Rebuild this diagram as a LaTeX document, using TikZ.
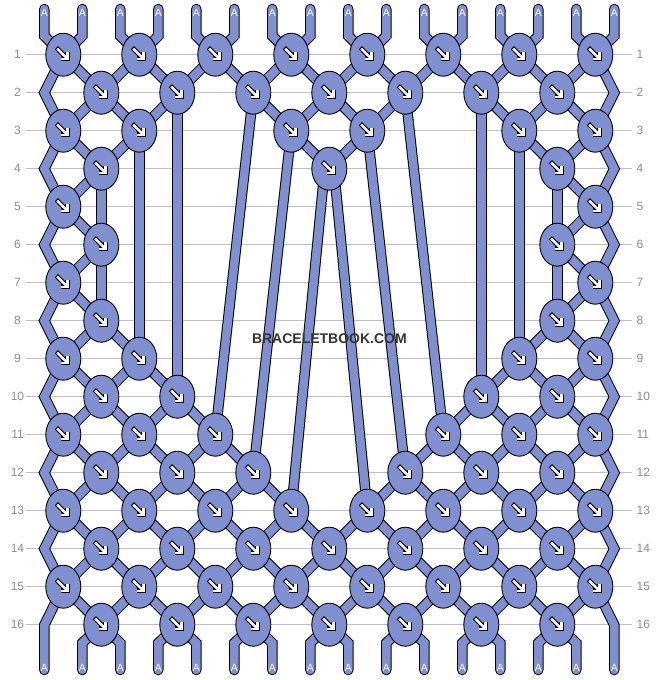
\documentclass[tikz,border=0pt]{standalone}
\usepackage{fontspec}
\setmainfont{Liberation Sans}
\usetikzlibrary{shapes.geometric,calc}
\definecolor{strand}{RGB}{127,143,208}
\definecolor{gridc}{RGB}{192,192,192}
\definecolor{numc}{RGB}{140,140,140}
\definecolor{titlec}{RGB}{51,51,51}
\pgfdeclarelayer{gridl}
\pgfdeclarelayer{strl}
\pgfsetlayers{gridl,strl,main}
\begin{document}
\begin{tikzpicture}[x=1pt,y=-1pt,
  knot/.style={ellipse, draw=black, line width=0.9pt, fill=strand,
    minimum width=35pt, minimum height=43pt, inner sep=0pt,
    path picture={\begin{scope}[shift={(path picture bounding box.center)}]
      \draw[black, line width=4.6pt, line cap=butt] (-6.9,-6.9) -- (3.6,3.6);
      \draw[black, line width=4.6pt, line cap=square, line join=miter] (4,-2.5) -- (4,4) -- (-2.5,4);
      \draw[white, line width=2.4pt, line cap=butt] (-6.1,-6.1) -- (3.6,3.6);
      \draw[white, line width=2.4pt, line cap=square, line join=miter] (4,-2.5) -- (4,4) -- (-2.5,4);
    \end{scope}}},
  str/.style={draw=black, line width=1pt, double=strand, double distance=8.5pt, line join=miter},
  strend/.style={str, line cap=round},
  lab/.style={font=\fontsize{10.5}{12}\selectfont, text=white, inner sep=0pt},
  num/.style={font=\fontsize{12}{14}\selectfont, text=numc, inner sep=0pt},
]
\useasboundingbox (0,0) rectangle (658,680);

% knots
\foreach \r/\ks in {1/{1,2,3,4,5,6,7,8}, 2/{1,2,3,4,5,6,7}, 3/{1,2,4,5,7,8}, 4/{1,4,7},
  5/{1,8}, 6/{1,7}, 7/{1,8}, 8/{1,7}, 9/{1,2,7,8}, 10/{1,2,6,7}, 11/{1,2,3,6,7,8},
  12/{1,2,3,5,6,7}, 13/{1,2,3,4,5,6,7,8}, 14/{1,2,3,4,5,6,7}, 15/{1,2,3,4,5,6,7,8},
  16/{1,2,3,4,5,6,7}}{
  \foreach \k in \ks {
    \node[knot] (K\r-\k) at ({63.3+38*mod(\r+1,2)+76*(\k-1)}, {54.7+38*(\r-1)}) {};
  }
}

% grid and row numbers
\begin{pgfonlayer}{gridl}
\foreach \r in {1,...,16}{
  \coordinate (GL\r) at (26, {54.7+38*(\r-1)});
  \coordinate (GR\r) at (632, {54.7+38*(\r-1)});
  \draw[gridc, line width=1.3pt] (GL\r) -- (GR\r);
  \node[num] (NL\r) at (17.5, {54.7+38*(\r-1)}) {\r};
  \node[num, anchor=west] (NR\r) at (636.5, {54.7+38*(\r-1)}) {\r};
}
\end{pgfonlayer}

\begin{pgfonlayer}{strl}
% regular connections
\foreach \a/\b in {
  1-1/2-1, 1-2/2-1, 1-2/2-2, 1-3/2-2, 1-3/2-3, 1-4/2-3, 1-4/2-4, 1-5/2-4, 1-5/2-5,
  1-6/2-5, 1-6/2-6, 1-7/2-6, 1-7/2-7, 1-8/2-7,
  2-1/3-1, 2-1/3-2, 2-2/3-2, 2-3/3-4, 2-4/3-4, 2-4/3-5, 2-5/3-5, 2-6/3-7, 2-7/3-7, 2-7/3-8,
  3-1/4-1, 3-2/4-1, 3-4/4-4, 3-5/4-4, 3-7/4-7, 3-8/4-7,
  4-1/5-1, 4-7/5-8, 5-1/6-1, 5-8/6-7, 6-1/7-1, 6-7/7-8, 7-1/8-1, 7-8/8-7,
  8-1/9-1, 8-1/9-2, 8-7/9-7, 8-7/9-8,
  9-1/10-1, 9-2/10-1, 9-2/10-2, 9-7/10-6, 9-7/10-7, 9-8/10-7,
  10-1/11-1, 10-1/11-2, 10-2/11-2, 10-2/11-3, 10-6/11-6, 10-6/11-7, 10-7/11-7, 10-7/11-8,
  11-1/12-1, 11-2/12-1, 11-2/12-2, 11-3/12-2, 11-3/12-3, 11-6/12-5, 11-6/12-6, 11-7/12-6,
  11-7/12-7, 11-8/12-7,
  12-1/13-1, 12-1/13-2, 12-2/13-2, 12-2/13-3, 12-3/13-3, 12-3/13-4, 12-5/13-5, 12-5/13-6,
  12-6/13-6, 12-6/13-7, 12-7/13-7, 12-7/13-8,
  2-2/10-2, 2-3/11-3, 2-5/11-6, 2-6/10-6, 3-2/9-2, 3-4/12-3, 3-5/12-5, 3-7/9-7,
  4-1/6-1, 4-7/6-7, 6-1/8-1, 6-7/8-7}{
  \draw[str] (K\a.center) -- (K\b.center);
}
\draw[str] ([xshift=-4.6pt]K4-4.center) -- (K13-4.center);
\draw[str] ([xshift=4.6pt]K4-4.center) -- (K13-5.center);
% full rows 13-16
\foreach \r in {13,15}{
  \pgfmathtruncatemacro\rn{\r+1}
  \foreach \k in {1,...,7}{
    \pgfmathtruncatemacro\kn{\k+1}
    \draw[str] (K\r-\k.center) -- (K\rn-\k.center);
    \draw[str] (K\r-\kn.center) -- (K\rn-\k.center);
  }
}
\foreach \k in {1,...,7}{
  \pgfmathtruncatemacro\kn{\k+1}
  \draw[str] (K14-\k.center) -- (K15-\k.center);
  \draw[str] (K14-\k.center) -- (K15-\kn.center);
}
% edge strands
\foreach \r in {1,3,5,7,9,11,13}{
  \pgfmathtruncatemacro\rr{\r+2}
  \coordinate (EL\r) at (44.3, {54.7+38*\r});
  \coordinate (ER\r) at (614.3, {54.7+38*\r});
  \draw[str] (K\r-1.center) -- (EL\r) -- (K\rr-1.center);
  \draw[str] (K\r-8.center) -- (ER\r) -- (K\rr-8.center);
}
% top strands
\foreach \i in {1,...,16}{
  \pgfmathtruncatemacro\kk{(\i+1)/2}
  \coordinate (TS\i) at ({44.3+38*(\i-1)}, 9);
  \coordinate (TB\i) at ({44.3+38*(\i-1)}, 36);
  \draw[strend] (TS\i) -- (TB\i) -- (K1-\kk.center);
}
% bottom strands
\coordinate (BB1) at (44.3, 625);
\coordinate (BE1) at (44.3, 670);
\coordinate (BB16) at (614.3, 625);
\coordinate (BE16) at (614.3, 670);
\draw[strend] (K15-1.center) -- (BB1) -- (BE1);
\draw[strend] (K15-8.center) -- (BB16) -- (BE16);
\foreach \k in {1,...,7}{
  \pgfmathtruncatemacro\ia{2*\k}
  \pgfmathtruncatemacro\ib{2*\k+1}
  \coordinate (BB\ia) at ({44.3+38*(\ia-1)}, 643);
  \coordinate (BE\ia) at ({44.3+38*(\ia-1)}, 670);
  \coordinate (BB\ib) at ({44.3+38*(\ib-1)}, 643);
  \coordinate (BE\ib) at ({44.3+38*(\ib-1)}, 670);
  \draw[strend] (K16-\k.center) -- (BB\ia) -- (BE\ia);
  \draw[strend] (K16-\k.center) -- (BB\ib) -- (BE\ib);
}
\end{pgfonlayer}

% strand labels
\foreach \i in {1,...,16}{
  \node[lab] (LT\i) at ({44.3+38*(\i-1)}, 12.5) {A};
  \node[lab] (LB\i) at ({44.3+38*(\i-1)}, 668) {A};
}

\node[font=\bfseries\fontsize{14}{16}\selectfont, text=titlec, inner sep=0pt] (title) at (329.4, 339) {BRACELETBOOK.COM};
\end{tikzpicture}
\end{document}
